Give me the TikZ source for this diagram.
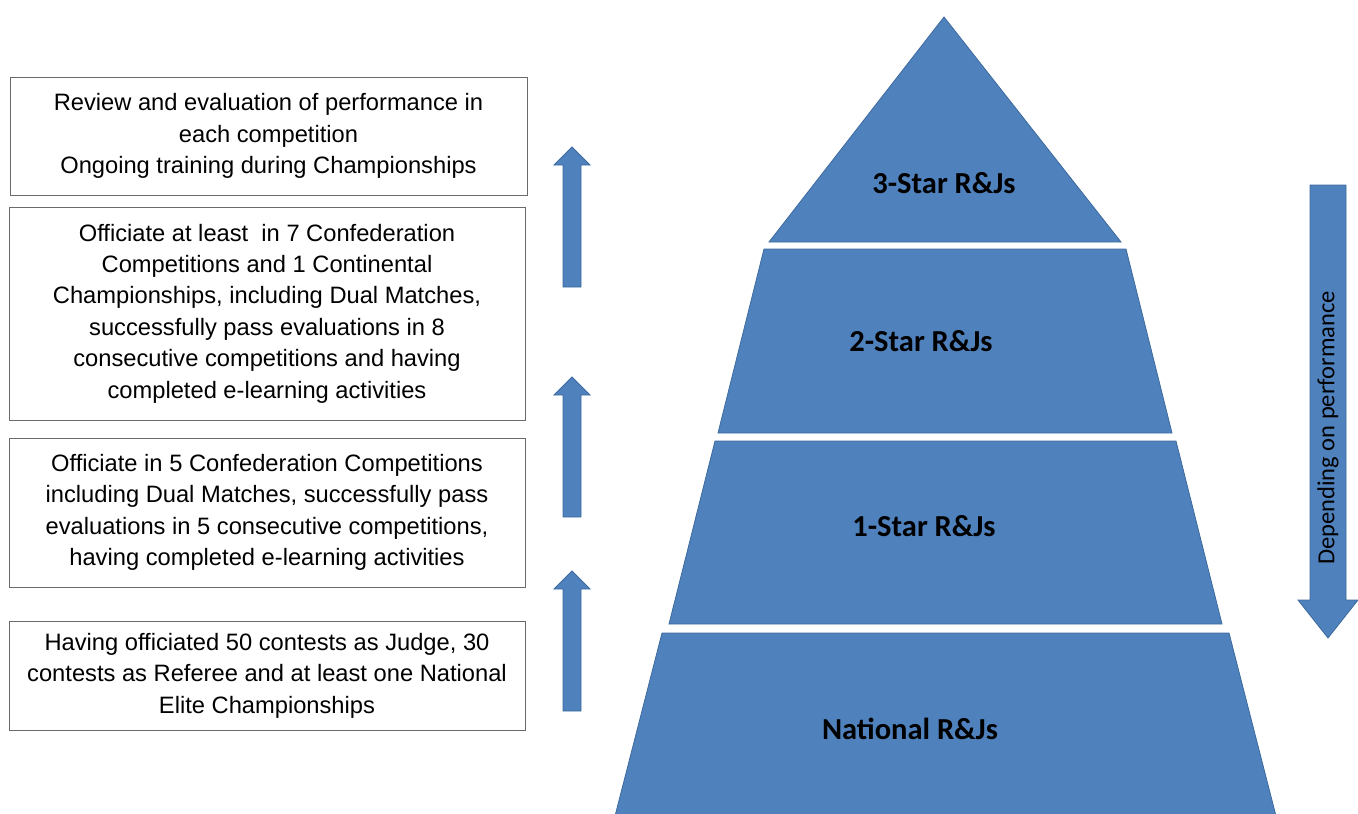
\documentclass[tikz,border=0pt]{standalone}
\usepackage{fontspec}
\setmainfont{Liberation Sans}
\newfontfamily\calfont{Carlito}
\definecolor{pyr}{HTML}{4F81BD}
\definecolor{pyrline}{HTML}{3D6A9E}
\definecolor{boxline}{HTML}{6A6A6A}
\newcommand{\upArr}[3]{%
  \filldraw[arr] (#1-9,#3) -- (#1-9,#2+18) -- (#1-18,#2+18) -- (#1,#2) -- (#1+18,#2+18) -- (#1+9,#2+18) -- (#1+9,#3) -- cycle;}
\begin{document}
\begin{tikzpicture}[x=1pt,y=-1pt,
  req/.style={draw=boxline, line width=1pt, align=center, inner sep=0pt,
    font=\fontsize{23.7}{31.4}\selectfont},
  tier/.style={fill=pyr, draw=pyrline, line width=0.8pt},
  tierlabel/.style={font=\calfont\bfseries\fontsize{30.5}{32}\selectfont, text=black},
  arr/.style={fill=pyr, draw=pyrline, line width=0.8pt}]
\useasboundingbox (0,0) rectangle (1358,814);

% requirement boxes
\node[req, minimum width=517, minimum height=118] (b1) at (268.5,136)
  {Review and evaluation of performance in\\each competition\\Ongoing training during Championships};
\node[req, minimum width=516, minimum height=213] (b2) at (267,313.5)
  {Officiate at least\ \ in 7 Confederation\\Competitions and 1 Continental\\Championships, including Dual Matches,\\successfully pass evaluations in 8\\consecutive competitions and having\\completed e-learning activities};
\node[req, minimum width=516, minimum height=149] (b3) at (267,512.5)
  {Officiate in 5 Confederation Competitions\\including Dual Matches, successfully pass\\evaluations in 5 consecutive competitions,\\having completed e-learning activities};
\node[req, minimum width=516, minimum height=109] (b4) at (267,675.5)
  {Having officiated 50 contests as Judge, 30\\contests as Referee and at least one National\\Elite Championships};

% up arrows
\upArr{572}{147}{287}
\upArr{572}{377}{517}
\upArr{572}{571}{711}

% pyramid
\filldraw[tier] (944,17) -- (1121,242) -- (769,242) -- cycle;
\filldraw[tier] (764,249) -- (1126,249) -- (1172,433) -- (718,433) -- cycle;
\filldraw[tier] (715,441) -- (1176,441) -- (1222,624) -- (669,624) -- cycle;
\filldraw[tier] (662,633) -- (1229,633) -- (1276,816) -- (615,816) -- cycle;

\node[tierlabel] (t3) at (944,183) {3-Star R\&Js};
\node[tierlabel] (t2) at (921,341) {2-Star R\&Js};
\node[tierlabel] (t1) at (924,526) {1-Star R\&Js};
\node[tierlabel] (t0) at (910,729) {National R\&Js};

% down arrow
\filldraw[arr] (1310,185) -- (1346,185) -- (1346,600) -- (1358,600) -- (1328,638) -- (1298,600) -- (1310,600) -- cycle;
\node[rotate=90, font=\calfont\fontsize{24.5}{26}\selectfont] (perf) at (1328,428) {Depending on performance};
\end{tikzpicture}
\end{document}
